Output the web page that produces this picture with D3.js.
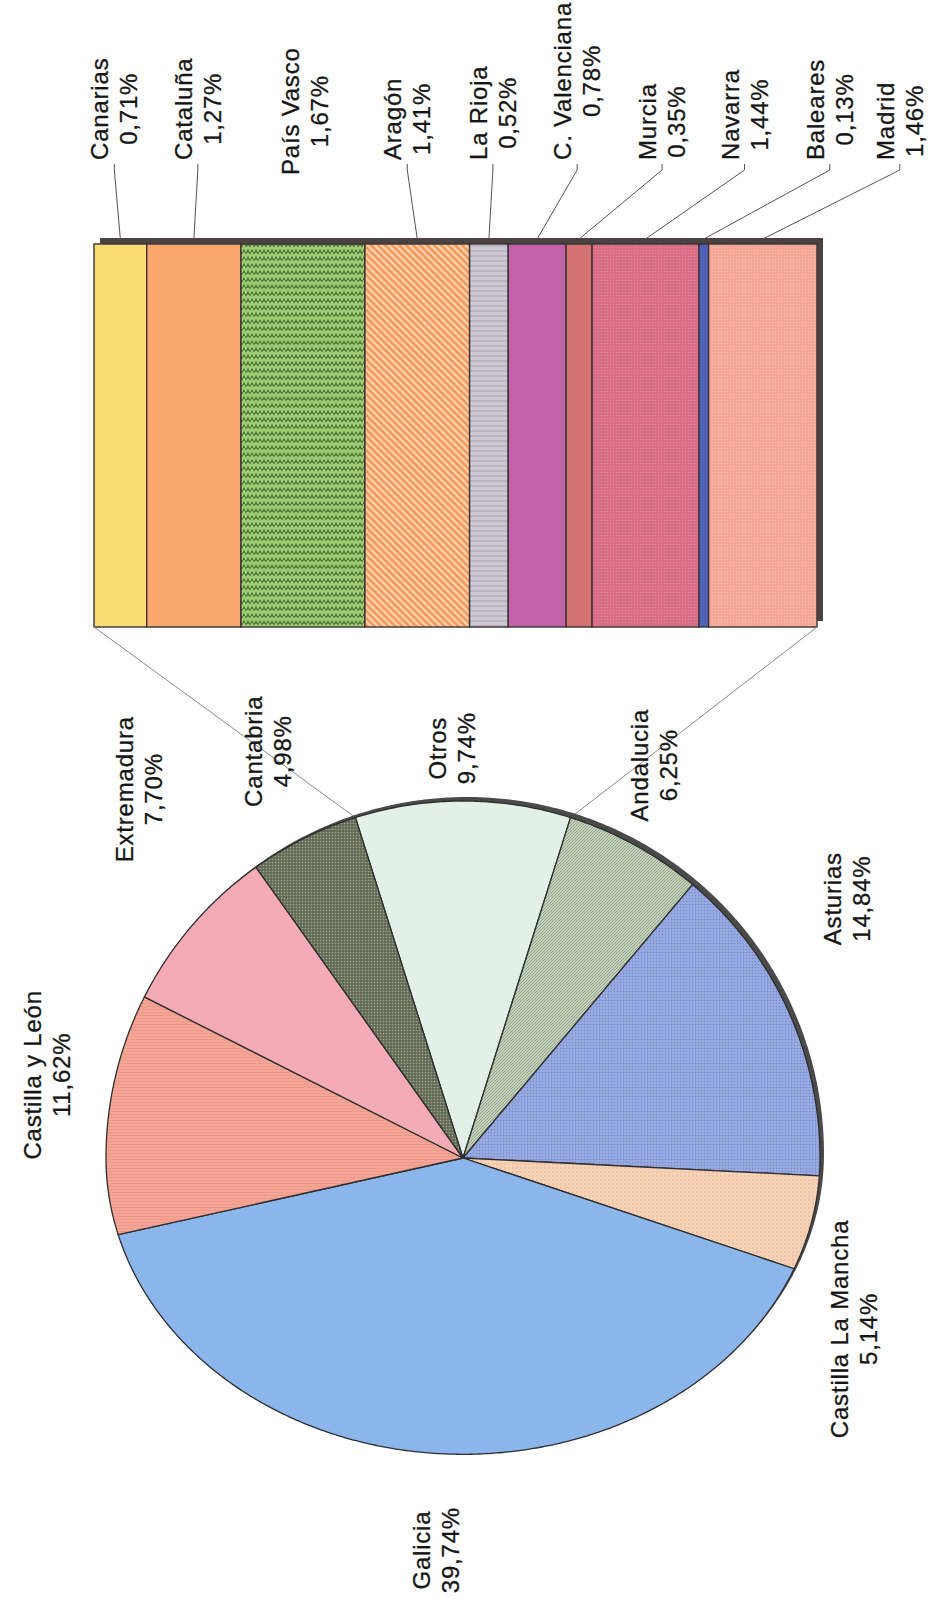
<!DOCTYPE html>
<html><head><meta charset="utf-8">
<script src="https://cdn.jsdelivr.net/npm/d3@7"></script>
<style>body{margin:0;background:#fff}svg{display:block}</style>
</head><body><svg id="c" width="945" height="1618"></svg>
<script>
// ---------- data ----------
const pieNames = ["Otros","Andalucia","Asturias","Castilla La Mancha","Galicia","Castilla y León","Extremadura","Cantabria"];
const piePercents = [9.74, 6.25, 14.84, 5.14, 39.74, 11.62, 7.70, 4.98];
const barNames = ["Canarias","Cataluña","País Vasco","Aragón","La Rioja","C. Valenciana","Murcia","Navarra","Baleares","Madrid"];
const barPercents = [0.71, 1.27, 1.67, 1.41, 0.52, 0.78, 0.35, 1.44, 0.13, 1.46];

// ---------- styles / layout ----------
const pieFills = ["#e2f1e8","url(#pAnd)","url(#pAst)","url(#pClm)","#8ab6ec","url(#pCyl)","#f5abb6","url(#pCan)"];
const barFills = ["#f9dc72","#f9a76c","url(#pPv)","url(#pAra)","url(#pRio)","#c262a8","#d27272","url(#pNav)","#4f62b4","url(#pMad)"];
// label placement: [angle nudge from slice mid (deg), distance from centre]
const pieLabelPolar = [[-1.6,410],[-2.8,437],[-10.8,463],[10.9,427],[0.4,393],[5.4,424],[8.0,491],[0.9,451]];
// bar label horizontal offset from segment centre, and label bottom
const barLabelDx = [-6,4,2,-10,4,40,83,99,126,137];
const barLabelBottom = [160,160,175,160,160,160,160,160,160,160];

const W=945, H=1618;
const cx=463, cy=1158, R=357, kLow=0.83;   // lower half of the scanned pie is flattened
const barX0=94, barX1=817, barY0=244, barY1=627, sh=6;
const fontSize=24, lineGap=29;

const svg = d3.select("#c");
svg.append("rect").attr("width",W).attr("height",H).attr("fill","#fff");
const defs = svg.append("defs");

function pat(id,w,h,base){
  const p=defs.append("pattern").attr("id",id).attr("patternUnits","userSpaceOnUse").attr("width",w).attr("height",h);
  p.append("rect").attr("width",w).attr("height",h).attr("fill",base);
  return p;
}
{const p=pat("pAnd",3,3,"#c3d1bb"); p.append("path").attr("d","M0,3L3,0").attr("stroke","#8f9f88").attr("stroke-width",0.9);}
{const p=pat("pAst",3,3,"#96a9e0"); p.append("circle").attr("cx",1.5).attr("cy",1.5).attr("r",0.7).attr("fill","#7588cb");}
{const p=pat("pClm",4,4,"#f8d2b6"); p.append("circle").attr("cx",2).attr("cy",2).attr("r",0.7).attr("fill","#dba98c");}
{const p=pat("pCyl",4,3,"#f4a595"); p.append("path").attr("d","M0,1.5H4").attr("stroke","#ee9585").attr("stroke-width",0.8);}
{const p=pat("pCan",3,3,"#646c57"); p.append("circle").attr("cx",1.5).attr("cy",1.5).attr("r",0.8).attr("fill","#a2a890");}
{const p=pat("pPv",8,7,"#4a7833"); p.append("path").attr("d","M0,1L2,5.5L4,1L6,5.5L8,1").attr("fill","none").attr("stroke","#a2cc78").attr("stroke-width",2.1);}
{const p=pat("pAra",7,7,"#fbd1ad"); p.append("path").attr("d","M-2,-2L9,9M-2,5L2,9M5,-2L9,2").attr("stroke","#f5985a").attr("stroke-width",2.6);}
{const p=pat("pRio",4,5,"#cfc9d5"); p.append("path").attr("d","M0,1H4").attr("stroke","#b0a8b8").attr("stroke-width",1.2);}
{const p=pat("pNav",3,3,"#d96d85"); p.append("circle").attr("cx",1.5).attr("cy",1.5).attr("r",0.6).attr("fill","#e8909f");}
{const p=pat("pMad",3,3,"#f5a694"); p.append("circle").attr("cx",1.5).attr("cy",1.5).attr("r",0.6).attr("fill","#fbc7b8");}

const fmt = v => d3.format(".2f")(v).replace(".",",")+"%";
const half = Math.PI*piePercents[0]/100;
const pie = d3.pie().sort(null).value(d=>d).startAngle(-half).endAngle(2*Math.PI-half);
const arcs = pie(piePercents);
// projection of a pie angle onto the (flattened-bottom) outline, relative to centre
const proj = (t,r=R)=>{const c=Math.cos(t); return [r*Math.sin(t), -r*c*(c<0?kLow:1)];};
const lineGen = d3.line().curve(d3.curveLinearClosed);
function slicePath(a0,a1,withCentre){
  const n=Math.max(2,Math.ceil((a1-a0)/0.008));
  const pts=d3.range(n+1).map(j=>proj(a0+(a1-a0)*j/n));
  return lineGen(withCentre?[[0,0],...pts]:pts);
}
const pt = (a,r)=>[cx+r*Math.sin(a), cy-r*Math.cos(a)];

// ---------- bar ----------
const x = d3.scaleLinear().domain([0,d3.sum(barPercents)]).range([barX0,barX1]);
const cum = [0,...d3.cumsum(barPercents)];
svg.append("rect").attr("x",barX0+sh).attr("y",barY0-sh).attr("width",barX1-barX0).attr("height",barY1-barY0).attr("fill","#4b4242");
svg.append("g").selectAll("rect").data(barPercents).join("rect")
  .attr("x",(d,i)=>x(cum[i])).attr("y",barY0)
  .attr("width",d=>x(d)-x(0)).attr("height",barY1-barY0)
  .attr("fill",(d,i)=>barFills[i]).attr("stroke","#3a3232").attr("stroke-width",1.4);

// ---------- connectors ----------
const qA = proj(arcs[0].startAngle), qB = proj(arcs[0].endAngle);
svg.append("line").attr("x1",cx+qA[0]).attr("y1",cy+qA[1]).attr("x2",barX0).attr("y2",barY1).attr("stroke","#8a8a8a").attr("stroke-width",1);
svg.append("line").attr("x1",cx+qB[0]).attr("y1",cy+qB[1]).attr("x2",barX1).attr("y2",barY1).attr("stroke","#8a8a8a").attr("stroke-width",1);

// ---------- pie ----------
svg.append("path").attr("transform",`translate(${cx+4},${cy-4})`)
  .attr("d",slicePath(0,2*Math.PI,false)).attr("fill","#4a4a4a");
svg.append("g").attr("transform",`translate(${cx},${cy})`).selectAll("path").data(arcs).join("path")
  .attr("d",d=>slicePath(d.startAngle,d.endAngle,true))
  .attr("fill",(d,i)=>pieFills[i]).attr("stroke","#2e2e2e").attr("stroke-width",1.3).attr("stroke-linejoin","round");

// ---------- labels ----------
function label(x0,y0,lines,anchorBottom){
  const g = svg.append("g");
  const ts = lines.map((t,k)=>g.append("text").text(t)
     .attr("transform","rotate(-90)")
     .attr("x",0).attr("y",(k-(lines.length-1)/2)*lineGap)
     .attr("text-anchor","middle").attr("dominant-baseline","central")
     .attr("font-family","'Liberation Sans', Arial, sans-serif").attr("font-size",fontSize)
     .attr("letter-spacing",0.8).attr("fill","#161616")
     .attr("stroke","#161616").attr("stroke-width",0.3));
  let yy=y0;
  if(anchorBottom!==undefined){
    const L=d3.max(ts,t=>t.node().getComputedTextLength());
    yy=anchorBottom-L/2;
  }
  g.attr("transform",`translate(${x0},${yy})`);
  return g;
}
arcs.forEach((a,i)=>{
  const mid=(a.startAngle+a.endAngle)/2 + pieLabelPolar[i][0]*Math.PI/180;
  const p=pt(mid,pieLabelPolar[i][1]);
  label(p[0],p[1],[pieNames[i],fmt(piePercents[i])]);
});
barPercents.forEach((v,i)=>{
  const segX=(x(cum[i])+x(cum[i+1]))/2;
  const lx=segX+barLabelDx[i];
  label(lx,0,[barNames[i],fmt(v)],barLabelBottom[i]);
  if(barNames[i]!=="País Vasco"){
    svg.append("polyline").attr("points",`${lx},${barLabelBottom[i]+4} ${lx},${barLabelBottom[i]+10} ${segX},${barY0-sh+1}`)
      .attr("fill","none").attr("stroke","#555").attr("stroke-width",1);
  }
});
</script></body></html>
